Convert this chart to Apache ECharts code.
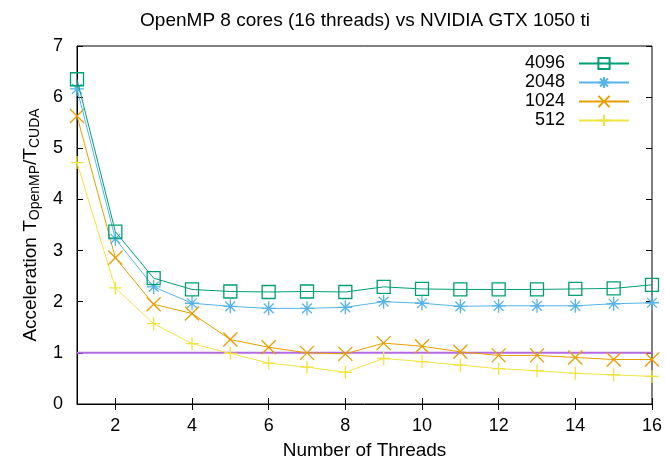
<!DOCTYPE html>
<html>
<head>
<meta charset="utf-8">
<script src="https://cdn.jsdelivr.net/npm/echarts@6/dist/echarts.min.js"></script>
<style>html,body{margin:0;padding:0;background:#fff}#c{width:665px;height:465px}</style>
</head>
<body>
<div id="c"></div>
<script>
const threads = [1,2,3,4,5,6,7,8,9,10,11,12,13,14,15,16];
const s4096 = [6.35,3.37,2.46,2.24,2.2,2.19,2.2,2.19,2.29,2.25,2.24,2.24,2.24,2.25,2.26,2.33];
const s2048 = [6.16,3.23,2.29,1.97,1.91,1.87,1.87,1.89,2.0,1.97,1.91,1.92,1.92,1.92,1.96,1.98];
const s1024 = [5.63,2.86,1.95,1.77,1.26,1.11,1.0,0.98,1.19,1.13,1.02,0.95,0.95,0.91,0.87,0.87];
const s512  = [4.72,2.27,1.57,1.18,0.99,0.80,0.72,0.62,0.89,0.83,0.76,0.69,0.65,0.60,0.57,0.54];
const seriesNames = ['4096','2048','1024','512'];
const baseline = 1;
const xTicks = [2,4,6,8,10,12,14,16];

const FONT = 'Liberation Sans';
const colors = ['#009e73','#56b4e9','#e69f00','#f0e442'];
const symbols = [
  'path://M0,0L10,0L10,10L0,10Z',
  'path://M5,0L5,10M0,5L10,5M1.5,1.5L8.5,8.5M1.5,8.5L8.5,1.5',
  'path://M0,0L10,10M0,10L10,0',
  'path://M5,0L5,10M0,5L10,5'
];
const sizes = [13,14,14,13];
const dataSets = [s4096,s2048,s1024,s512];

const series = dataSets.map((arr,i)=>({
  name: seriesNames[i],
  type: 'line',
  data: threads.map((t,j)=>[t,arr[j]]),
  symbol: symbols[i],
  symbolSize: sizes[i],
  showSymbol: true,
  lineStyle: {color: colors[i], width: 1},
  itemStyle: {color: 'rgba(0,0,0,0)', borderColor: colors[i], borderWidth: 1.3},
  z: 10 - i,
  animation: false
}));
series.push({
  name: 'y1',
  type: 'line',
  data: [[threads[0], baseline],[threads[threads.length-1], baseline]],
  symbol: 'none',
  lineStyle: {color: '#b36ae2', width: 2},
  z: 1,
  animation: false
});

const common = {color:'#000', fontFamily: FONT, fontSize: 18};
const nameStyle = {color:'#000', fontFamily: FONT, fontSize: 19};
const chart = echarts.init(document.getElementById('c'));
chart.setOption({
  animation: false,
  title: {
    text: 'OpenMP 8 cores (16 threads) vs NVIDIA GTX 1050 ti',
    left: 365, top: 11, padding: 0, textAlign: 'center',
    textStyle: {fontFamily: FONT, fontSize: 19, fontWeight: 'normal', color: '#000'}
  },
  legend: {
    data: seriesNames,
    orient: 'vertical',
    align: 'right',
    right: 30, top: 49,
    itemWidth: 50, itemHeight: 14, itemGap: 0,
    textStyle: {fontFamily: FONT, fontSize: 18, lineHeight: 19, color: '#000', padding: [0,9,0,0]}
  },
  grid: {left: 77, right: 12, top: 46, bottom: 59, show: true, borderColor: '#000', borderWidth: 1, backgroundColor: 'transparent', containLabel: false},
  xAxis: [{
    type: 'value', min: 1, max: 16,
    name: 'Number of Threads', nameLocation: 'middle', nameGap: 37,
    nameTextStyle: nameStyle,
    axisLine: {show: true, onZero: false, lineStyle: {color:'#000'}},
    axisTick: {show: true, inside: true, length: 6, customValues: xTicks, lineStyle:{color:'#000'}},
    axisLabel: {customValues: xTicks, margin: 13, ...common},
    splitLine: {show: false}
  },{
    type: 'value', min: 1, max: 16, position: 'top',
    axisLine: {show: false},
    axisTick: {show: true, inside: true, length: 6, customValues: xTicks, lineStyle:{color:'#000'}},
    axisLabel: {show: false},
    splitLine: {show: false}
  }],
  yAxis: [{
    type: 'value', min: 0, max: 7, interval: 1,
    name: 'Acceleration T{sub|OpenMP}/T{sub|CUDA}',
    nameLocation: 'middle', nameGap: 35, nameRotate: 90,
    nameTextStyle: {...nameStyle, rich: {sub: {fontFamily: FONT, fontSize: 14, color:'#000', padding: [9,0,0,0]}}},
    axisLine: {show: true, onZero: false, lineStyle: {color:'#000'}},
    axisTick: {show: true, inside: true, length: 6, lineStyle:{color:'#000'}},
    axisLabel: {margin: 14, ...common},
    splitLine: {show: false}
  },{
    type: 'value', min: 0, max: 7, interval: 1, position: 'right',
    axisLine: {show: false},
    axisTick: {show: true, inside: true, length: 6, lineStyle:{color:'#000'}},
    axisLabel: {show: false},
    splitLine: {show: false}
  }],
  series: series
});
</script>
</body>
</html>
